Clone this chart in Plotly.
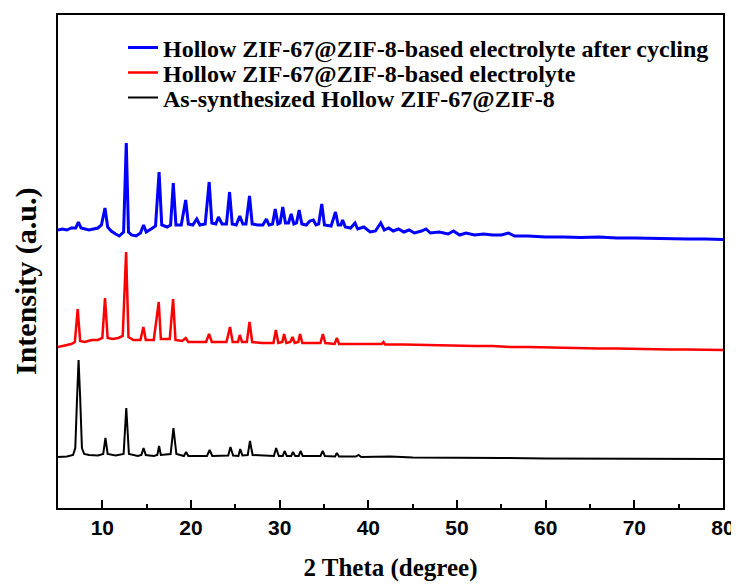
import plotly.graph_objects as go

# ---- data (intensity in arbitrary units, stacked offsets) ----
blue_x = [5.0, 5.5, 6.0, 6.5, 7.0, 7.3, 7.6, 8.0, 8.5, 9.0, 9.5, 9.9, 10.3, 10.6, 11.0, 11.5, 11.9, 12.4,
          12.7, 12.95, 13.3, 13.8, 14.3, 14.65, 14.95, 15.5, 16.0, 16.4, 16.7, 17.3, 17.7, 18.0, 18.3,
          18.9, 19.4, 19.7, 20.2, 20.65, 21.0, 21.6, 22.05, 22.35, 22.8, 23.1, 23.5, 24.0, 24.35, 24.65,
          25.1, 25.5, 25.85, 26.2, 26.6, 26.9, 27.5, 28.1, 28.5, 28.8, 29.2, 29.5, 29.8, 30.05, 30.35,
          30.65, 31.0, 31.3, 31.6, 31.9, 32.2, 32.5, 33.0, 33.4, 33.8, 34.1, 34.4, 34.75, 35.05, 35.8,
          36.3, 36.6, 36.9, 37.1, 37.4, 38.0, 38.5, 38.8, 39.5, 40.2, 40.8, 41.4, 41.8, 42.3, 42.8, 43.4,
          44.0, 44.6, 45.2, 46.0, 46.5, 47.0, 48.0, 49.0, 49.6, 50.3, 51.0, 52.0, 53.0, 54.0, 55.0, 55.8,
          56.5, 58.0, 60.0, 62.0, 64.0, 66.0, 68.0, 70.0, 72.0, 74.0, 76.0, 78.0, 80.0]
blue_y = [278, 279, 278, 280, 280, 286, 280, 279, 278, 279, 280, 283, 300, 281, 277, 274, 272, 276,
          365, 276, 273, 272, 275, 283, 276, 279, 282, 336, 283, 281, 283, 325, 283,
          283, 308, 284, 283, 289, 283, 284, 326, 285, 284, 291, 284, 284, 316, 284,
          283, 292, 284, 284, 312, 284, 283, 283, 289, 283, 284, 299, 284, 285, 301,
          285, 285, 294, 284, 285, 298, 284, 283, 287, 288, 283, 284, 304, 283, 282,
          296, 283, 283, 288, 281, 280, 285, 279, 281, 276, 277, 285, 278, 280, 277, 279,
          276, 278, 275, 277, 279, 275, 276, 274, 277, 273, 275, 273, 274, 273, 273, 275,
          272, 272, 271, 271, 270.5, 271, 270, 270, 269.5, 269.5, 269, 269, 268.5]

red_x = [5.0, 5.8, 6.5, 6.9, 7.22, 7.5, 8.0, 8.8, 9.5, 10.0, 10.3, 10.6, 11.2, 11.8, 12.3, 12.68, 12.95,
         13.5, 14.3, 14.63, 14.9, 15.8, 16.36, 16.6, 17.6, 17.98, 18.25, 19.0, 19.4, 19.7, 21.7, 22.04,
         22.35, 24.0, 24.4, 24.7, 25.3, 25.5, 25.75, 26.3, 26.6, 26.9, 28.0, 29.3, 29.57, 29.85, 30.3,
         30.5, 30.75, 31.2, 31.45, 31.7, 32.1, 32.3, 32.55, 33.5, 34.6, 34.87, 35.15, 36.2, 36.45, 36.7,
         38.0, 39.0, 40.0, 41.5, 41.7, 41.9, 44.0, 46.0, 48.0, 50.0, 52.0, 54.0, 56.0, 58.0, 60.0, 62.0, 64.0,
         66.0, 68.0, 70.0, 72.0, 74.0, 76.0, 78.0, 80.0]
red_y = [161, 163, 164, 166, 199, 167, 166, 168, 168, 170, 210, 170, 169, 170, 172, 256, 171,
         168, 168, 181, 168, 168, 206, 169, 169, 209, 168, 167, 170, 166, 166, 174,
         166, 166, 181, 166, 166, 173, 166, 166, 186, 166, 165, 165, 178, 165, 166,
         174, 165, 166, 171, 165, 166, 174, 165, 165, 165, 174, 165, 164, 170, 164,
         164, 164.5, 164, 164, 166, 163.5, 163.5, 163, 163, 162.5, 162, 162, 161, 161, 160.5, 160, 160,
         159.5, 159.5, 159, 159, 158.5, 158.5, 158, 158]

black_x = [5.0, 6.0, 6.7, 6.95, 7.15, 7.32, 7.5, 7.7, 7.95, 8.5, 9.5, 10.1, 10.35, 10.6, 11.5, 12.4, 12.7,
           13.0, 14.0, 14.4, 14.65, 14.9, 15.8, 16.2, 16.4, 16.6, 17.7, 18.02, 18.35, 19.2, 19.45, 19.7,
           21.8, 22.1, 22.4, 24.2, 24.45, 24.75, 25.35, 25.55, 25.8, 26.4, 26.65, 26.95, 29.35, 29.6,
           29.9, 30.35, 30.55, 30.8, 31.3, 31.5, 31.75, 32.15, 32.35, 32.6, 34.6, 34.85, 35.1, 36.25,
           36.45, 36.7, 38.6, 38.9, 39.2, 42.5, 45.0, 50.0, 55.0, 60.0, 65.0, 70.0, 75.0, 80.0]
black_y = [51, 51.5, 53, 60, 110, 148, 110, 60, 54, 53, 52.5, 54, 70, 54, 52.5, 54, 100,
           54, 52, 53, 60, 53, 52, 53, 62, 53, 54, 80, 54, 52, 56, 52,
           52, 58, 52, 52.5, 61, 52.5, 52, 59, 52.5, 53, 67, 53, 52, 60,
           52, 52, 57, 52, 52, 56, 52, 52, 57, 52, 52, 57, 52, 51.5,
           55, 51.5, 51.5, 53, 51, 51.5, 50.5, 50.5, 50, 49.5, 49.5, 49, 49, 49]

names = ["Hollow ZIF-67@ZIF-8-based electrolyte after cycling",
         "Hollow ZIF-67@ZIF-8-based electrolyte",
         "As-synthesized Hollow ZIF-67@ZIF-8"]
x_ticks = [10, 20, 30, 40, 50, 60, 70, 80]

serif = "Liberation Serif, Times New Roman, serif"
sans = "Liberation Sans, Arial, sans-serif"

fig = go.Figure()
fig.add_trace(go.Scatter(x=blue_x, y=blue_y, mode="lines", name=names[0], legend="legend",
                         line=dict(color="#0000FF", width=3)))
fig.add_trace(go.Scatter(x=red_x, y=red_y, mode="lines", name=names[1], legend="legend2",
                         line=dict(color="#FF0000", width=2.5)))
fig.add_trace(go.Scatter(x=black_x, y=black_y, mode="lines", name=names[2], legend="legend3",
                         line=dict(color="#000000", width=2)))

# page has an 8px body margin; plot area in page px: x 58..723, y 15..508
def leg(ypx):
    return dict(x=(123 - 58) / 665, y=(508 - ypx) / 493, xanchor="left", yanchor="middle",
                font=dict(family=serif, size=24, color="black", weight="bold"),
                bgcolor="rgba(0,0,0,0)", borderwidth=0)

fig.update_layout(
    width=731, height=576,
    margin=dict(l=50, r=16, t=7, b=76),
    plot_bgcolor="white", paper_bgcolor="white",
    showlegend=True,
    legend=leg(48), legend2=leg(73), legend3=leg(98),
    xaxis=dict(range=[5, 80], tickvals=x_ticks, ticktext=[str(v) for v in x_ticks],
               automargin=False,
               ticks="inside", ticklen=8, tickwidth=2, tickcolor="black",
               minor=dict(dtick=5, tick0=0, ticks="inside", ticklen=4, tickwidth=2, tickcolor="black"),
               showline=True, mirror=True, linewidth=2, linecolor="black",
               showgrid=False, zeroline=False,
               tickfont=dict(family=sans, size=21, color="black", weight="bold"),
               title=dict(text="2 Theta (degree)", standoff=20,
                          font=dict(family=serif, size=25, color="black", weight="bold"))),
    yaxis=dict(range=[0, 493], showticklabels=False, ticks="", automargin=False,
               showline=True, mirror=True, linewidth=2, linecolor="black",
               showgrid=False, zeroline=False),
    annotations=[dict(text="Intensity (a.u.)", textangle=-90, xref="paper", yref="paper",
                      x=(26 - 58) / 665, y=(508 - 281) / 493, xanchor="center", yanchor="middle",
                      showarrow=False,
                      font=dict(family=serif, size=30, color="black", weight="bold"))],
)

fig.write_html("out.html")
